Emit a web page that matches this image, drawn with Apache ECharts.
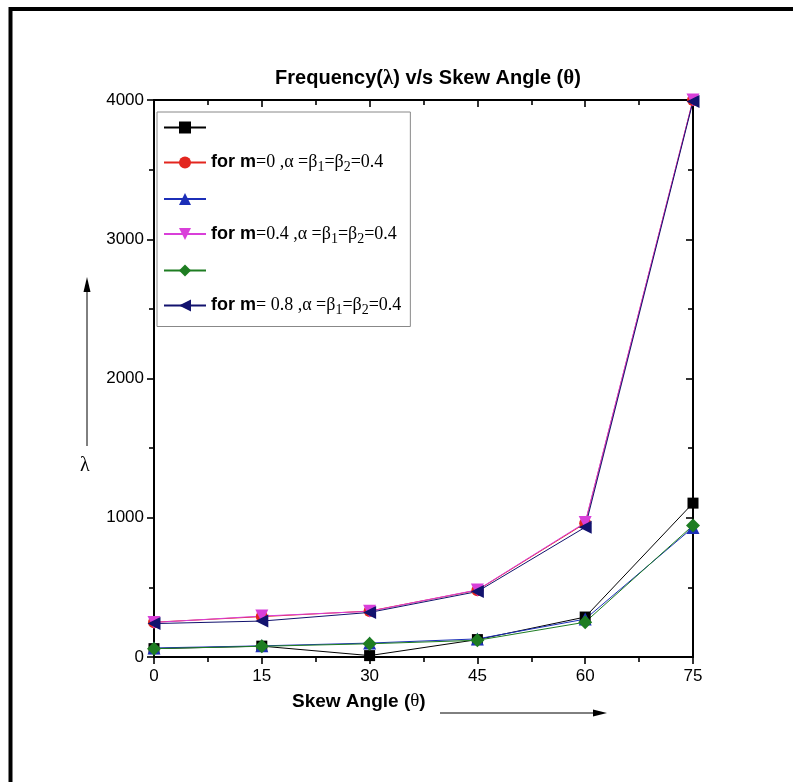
<!DOCTYPE html>
<html>
<head>
<meta charset="utf-8">
<script src="https://cdn.jsdelivr.net/npm/echarts@6/dist/echarts.min.js"></script>
<style>
  html, body { margin: 0; padding: 0; background: #fff; }
  #chart { width: 793px; height: 782px; }
</style>
</head>
<body>
<div id="chart"></div>
<script>
// skew angle (deg) and frequency values per curve
const angles = [0, 15, 30, 45, 60, 75];
const blackSq = [60, 78, 10, 125, 287, 1105];
const redCircle = [250, 290, 330, 480, 960, 4000];
const blueTri = [65, 80, 100, 130, 272, 930];
const pinkDown = [248, 294, 328, 482, 965, 4000];
const greenDia = [60, 77, 95, 120, 250, 945];
const navyLeft = [240, 258, 320, 470, 932, 3990];

const xTicks = [0, 15, 30, 45, 60, 75];
const yTicks = [0, 1000, 2000, 3000, 4000];

const LEGEND_TEXT = {
  s1: "",
  s2: "{b|for m}{s|=0 ,α =β}{sub|1}{s|=β}{sub|2}{s|=0.4}",
  s3: "",
  s4: "{b|for m}{s|=0.4 ,α =β}{sub|1}{s|=β}{sub|2}{s|=0.4}",
  s5: "",
  s6: "{b|for m}{s|= 0.8 ,α =β}{sub|1}{s|=β}{sub|2}{s|=0.4}",
};

const pairs = (vals) => angles.map((a, i) => [a, vals[i]]);

function mk(name, vals, color, symbol, rotate, size) {
  return {
    name,
    type: "line",
    data: pairs(vals),
    symbol,
    symbolRotate: rotate,
    symbolSize: size,
    itemStyle: { color },
    lineStyle: { color, width: 1 },
    emphasis: { disabled: true },
  };
}

const chart = echarts.init(document.getElementById("chart"), null, { renderer: "canvas" });

const axisLine = { show: true, onZero: false, lineStyle: { color: "#000", width: 2 } };
const tickStyle = { color: "#000", width: 1.6 };
const labelFont = { color: "#000", fontSize: 17, fontFamily: "Liberation Sans, Arial, sans-serif" };

chart.setOption({
  animation: false,
  backgroundColor: "#fff",
  title: {
    text: "{t|Frequency(}{g|λ}{t|) v/s Skew Angle (}{g|θ}{t|)}",
    left: 423,
    top: 63,
    textAlign: "center",
    textStyle: {
      rich: {
        t: { fontFamily: "Liberation Sans, Arial, sans-serif", fontWeight: "bold", fontSize: 20, color: "#000" },
        g: { fontFamily: "Liberation Serif, serif", fontSize: 21, color: "#000" },
      },
    },
  },
  grid: { left: 154, right: 100, top: 100, bottom: 125 },
  legend: {
    orient: "vertical",
    left: 157,
    top: 112,
    itemWidth: 42,
    itemHeight: 15,
    itemGap: 17,
    padding: [8, 9, 9, 6],
    borderColor: "#888",
    borderWidth: 1,
    backgroundColor: "#fff",
    selectedMode: false,
    formatter: (n) => LEGEND_TEXT[n],
    textStyle: {
      rich: {
        b: { fontFamily: "Liberation Sans, Arial, sans-serif", fontWeight: "bold", fontSize: 18, color: "#000", lineHeight: 20 },
        s: { fontFamily: "Liberation Serif, serif", fontSize: 18, color: "#000", lineHeight: 20 },
        sub: { fontFamily: "Liberation Serif, serif", fontSize: 14, color: "#000", padding: [10, 0, 0, 0], lineHeight: 14 },
      },
    },
    data: ["s1", "s2", "s3", "s4", "s5", "s6"],
  },
  xAxis: [
    {
      type: "value", min: 0, max: 75, interval: 15,
      axisLine, splitLine: { show: false },
      axisTick: { length: 7, lineStyle: tickStyle },
      minorTick: { show: true, splitNumber: 2, length: 5, lineStyle: tickStyle },
      axisLabel: { ...labelFont, margin: 11, formatter: (v) => (xTicks.includes(v) ? String(v) : "") },
    },
    {
      type: "value", position: "top", min: 0, max: 75, interval: 15,
      axisLine, splitLine: { show: false }, axisLabel: { show: false },
      axisTick: { inside: true, length: 7, lineStyle: tickStyle },
      minorTick: { show: true, splitNumber: 2, length: 5, lineStyle: tickStyle },
    },
  ],
  yAxis: [
    {
      type: "value", min: 0, max: 4000, interval: 1000,
      axisLine, splitLine: { show: false },
      axisTick: { length: 7, lineStyle: tickStyle },
      minorTick: { show: true, splitNumber: 2, length: 5, lineStyle: tickStyle },
      axisLabel: { ...labelFont, margin: 10, formatter: (v) => (yTicks.includes(v) ? String(v) : "") },
    },
    {
      type: "value", position: "right", min: 0, max: 4000, interval: 1000,
      axisLine, splitLine: { show: false }, axisLabel: { show: false },
      axisTick: { inside: true, length: 7, lineStyle: tickStyle },
      minorTick: { show: true, splitNumber: 2, length: 5, lineStyle: tickStyle },
    },
  ],
  series: [
    mk("s1", blackSq, "#000000", "rect", 0, 11),
    mk("s2", redCircle, "#e3261f", "circle", 0, 12),
    mk("s3", blueTri, "#1c2fb8", "triangle", 0, 13),
    mk("s4", pinkDown, "#d93fd9", "triangle", 180, 13),
    mk("s5", greenDia, "#1e7d22", "diamond", 0, 14),
    mk("s6", navyLeft, "#12126e", "triangle", 90, 13),
  ],
  graphic: [
    // outer frame
    { type: "rect", silent: true, shape: { x: 10.5, y: 9, width: 820, height: 820 },
      style: { fill: null, stroke: "#000", lineWidth: 4 } },
    // y-axis arrow and symbol
    { type: "line", silent: true, shape: { x1: 87, y1: 446, x2: 87, y2: 290 }, style: { stroke: "#000", lineWidth: 1 } },
    { type: "polygon", silent: true, shape: { points: [[87, 277], [83.5, 292], [90.5, 292]] }, style: { fill: "#000" } },
    { type: "text", silent: true, left: 80, top: 456,
      style: { text: "λ", font: "20px Liberation Serif, serif", fill: "#000" } },
    // x-axis name and arrow
    { type: "text", silent: true, left: 292, top: 692,
      style: { rich: {
        t: { fontFamily: "Liberation Sans, Arial, sans-serif", fontWeight: "bold", fontSize: 19, fill: "#000" },
        g: { fontFamily: "Liberation Serif, serif", fontSize: 19, fill: "#000" } },
        text: "{t|Skew Angle (}{g|θ}{t|)}" } },
    { type: "line", silent: true, shape: { x1: 440, y1: 713, x2: 594, y2: 713 }, style: { stroke: "#000", lineWidth: 1 } },
    { type: "polygon", silent: true, shape: { points: [[607, 713], [593, 709.5], [593, 716.5]] }, style: { fill: "#000" } },
  ],
});
</script>
</body>
</html>
